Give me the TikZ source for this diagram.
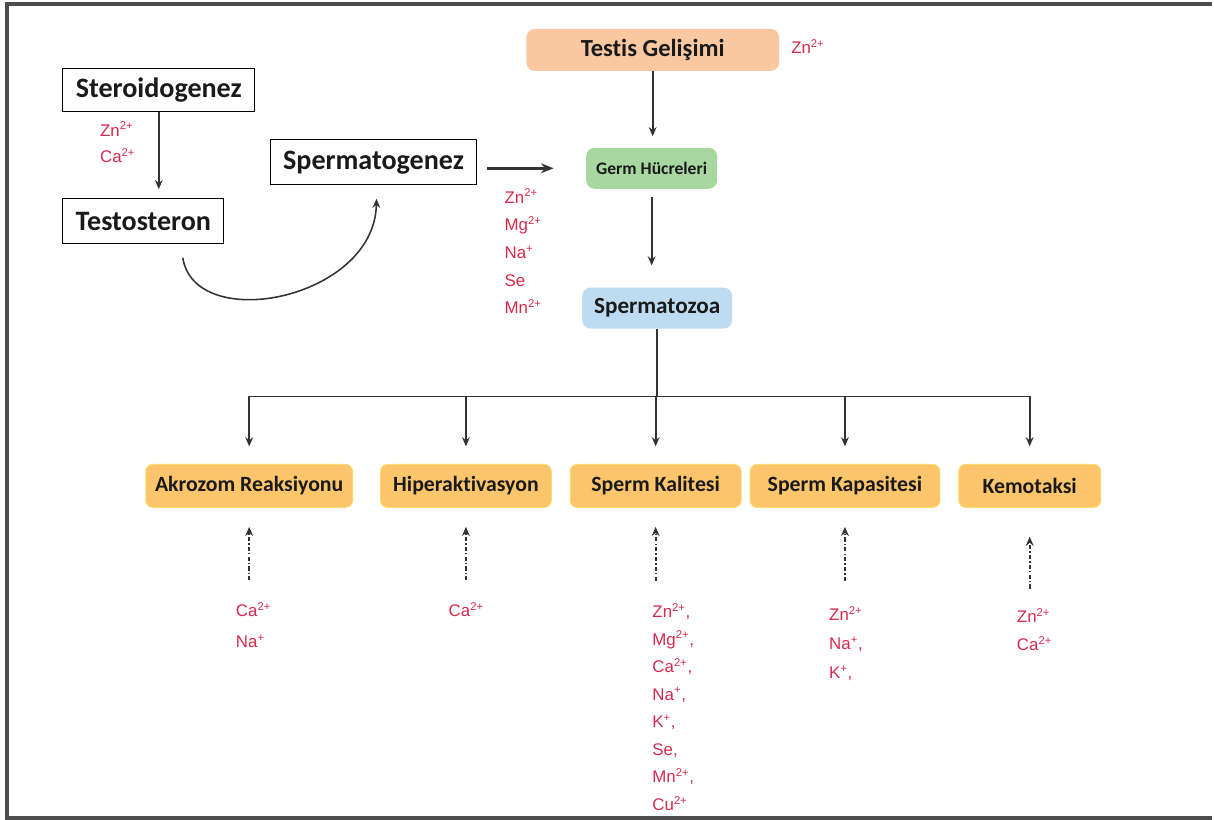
\documentclass[tikz,border=0pt]{standalone}
\usepackage{fontspec}
\setmainfont{Carlito}[Ligatures=NoCommon]
\newfontfamily\ionfont{Liberation Sans}
\usepackage{xcolor}
\usetikzlibrary{arrows.meta}
\definecolor{ink}{HTML}{1A1A1A}
\definecolor{wire}{HTML}{333333}
\definecolor{ionred}{HTML}{D62A4C}
\definecolor{framegray}{HTML}{4D4D4D}
\definecolor{peach}{HTML}{F9C8A1}
\definecolor{leaf}{HTML}{A9D7A0}
\definecolor{sky}{HTML}{BDDCF1}
\definecolor{amber}{HTML}{FCC56C}
\definecolor{amberline}{HTML}{FFD96E}
\newcommand{\ionsup}[2]{#1\textsuperscript{#2}}

\tikzset{
  plainbox/.style={draw=black, line width=0.8pt, fill=white, inner sep=0pt, text=ink,
                   font=\bfseries\fontsize{20}{24}\selectfont},
  softbox/.style={rounded corners=6pt, inner sep=0pt, text=ink},
  stagebox/.style={draw=amberline, fill=amber, line width=0.7pt, rounded corners=5pt,
                   inner sep=0pt, minimum height=1.075cm, text=ink,
                   font=\bfseries\fontsize{15.5}{18}\selectfont},
  ions/.style={anchor=north west, inner sep=0pt, align=left, text=ionred},
  flow/.style={draw=wire, line width=1.3pt, -{Stealth[length=6.5pt,width=5.5pt]}},
  dotflow/.style={draw=wire, line width=1.3pt, dash pattern=on 3pt off 1.5pt on 1pt off 1.5pt,
                  -{Stealth[length=6.5pt,width=5.5pt]}}
}

\begin{document}
\begin{tikzpicture}[x=0.025cm, y=-0.025cm]
\fill[white] (0,0) rectangle (1214,821);
\draw[framegray, line width=2.2pt] (1214,4) -- (7,4) -- (7,819) -- (1214,819);

\node[plainbox, minimum width=4.8cm, minimum height=1.075cm] (steroid) at (159,90.5) {Steroidogenez};
\node[plainbox, minimum width=4.025cm, minimum height=1.125cm] (testo) at (143.5,221.5) {Testosteron};
\node[plainbox, minimum width=5.15cm, minimum height=1.125cm] (spgen) at (374,162.5) {Spermatogenez};

\node[softbox, fill=peach, minimum width=6.325cm, minimum height=1.05cm,
      font=\bfseries\fontsize{17.5}{20}\selectfont] (testis) at (653.5,50) {Testis Gelişimi};
\node[softbox, fill=leaf, minimum width=3.275cm, minimum height=1.025cm,
      font=\bfseries\fontsize{12.5}{15}\selectfont] (germ) at (652.5,168.5) {Germ Hücreleri};
\node[softbox, fill=sky, minimum width=3.75cm, minimum height=1.025cm,
      font=\bfseries\fontsize{16.5}{19}\selectfont] (spzoa) at (658,308.5) {Spermatozoa};

\node[stagebox, minimum width=5.175cm] (akrozom) at (249.5,486.5) {Akrozom Reaksiyonu};
\node[stagebox, minimum width=4.275cm] (hiper) at (466.5,486.5) {Hiperaktivasyon};
\node[stagebox, minimum width=4.275cm] (kalite) at (656.5,486.5) {Sperm Kalitesi};
\node[stagebox, minimum width=4.75cm] (kapasite) at (846,486.5) {Sperm Kapasitesi};
\node[stagebox, minimum width=3.55cm] (kemo) at (1031,486.5) {Kemotaksi};

\node[ions, font=\ionfont\fontsize{12}{19.1}\selectfont] (steroid-ion) at (100,122)
  {\ionsup{Zn}{2+}\\\ionsup{Ca}{2+}};
\node[ions, font=\ionfont\fontsize{12}{19.7}\selectfont] (testis-ion) at (792,39) {\ionsup{Zn}{2+}};
\node[ions, font=\ionfont\fontsize{12}{19.7}\selectfont] (spgen-ion) at (505,189)
  {\ionsup{Zn}{2+}\\\ionsup{Mg}{2+}\\\ionsup{Na}{+}\\Se\\\ionsup{Mn}{2+}};
\node[ions, font=\ionfont\fontsize{12}{22}\selectfont] (akrozom-ion) at (236,603)
  {\ionsup{Ca}{2+}\\\ionsup{Na}{+}};
\node[ions, font=\ionfont\fontsize{12}{20}\selectfont] (hiper-ion) at (449,603) {\ionsup{Ca}{2+}};
\node[ions, font=\ionfont\fontsize{12}{19.6}\selectfont] (kalite-ion) at (653,604)
  {\ionsup{Zn}{2+},\\\ionsup{Mg}{2+},\\\ionsup{Ca}{2+},\\\ionsup{Na}{+},\\\ionsup{K}{+},\\Se,\\\ionsup{Mn}{2+},\\\ionsup{Cu}{2+}};
\node[ions, font=\ionfont\fontsize{12}{20.6}\selectfont] (kapasite-ion) at (830,607)
  {\ionsup{Zn}{2+}\\\ionsup{Na}{+},\\\ionsup{K}{+},};
\node[ions, font=\ionfont\fontsize{12}{20}\selectfont] (kemo-ion) at (1018,609)
  {\ionsup{Zn}{2+}\\\ionsup{Ca}{2+}};

\coordinate (bus) at (658,397);
\coordinate (cstart) at (183,258);
\coordinate (cend) at (377,199);

\draw[flow, shorten >=6.4pt] (steroid.south) -- (steroid.south |- testo.north);
\draw[draw=wire, line width=1.1pt, -{Stealth[length=6.5pt,width=5.5pt]}]
  (cstart) .. controls (195,335) and (375,300) .. (cend);
\draw[flow, line width=2.2pt, -{Stealth[length=9pt,width=7pt]}, shorten <=7pt, shorten >=23pt]
  (spgen.east |- germ) -- (germ);
\draw[flow, shorten >=8pt] (testis.south) -- (testis.south |- germ.north);
\draw[flow, shorten <=5.7pt, shorten >=15.6pt] (germ.south) -- (germ.south |- spzoa.north);
\draw[draw=wire, line width=1.3pt] (spzoa.south) -- (bus);
\draw[draw=wire, line width=1.3pt] (akrozom.north |- bus) -- (kemo.north |- bus);
\foreach \n in {akrozom,hiper,kalite,kapasite,kemo}
  \draw[flow, shorten >=12.5pt] (\n.north |- bus) -- (\n.north);
\foreach \n/\g/\s in {akrozom/15.5/13.5, hiper/15.5/13.5, kalite/16/13.5, kapasite/18/13.5, kemo/14/20.5}
  \draw[dotflow, shorten <=\g pt, shorten >=\s pt] (\n.south |- \n-ion.north) -- (\n.south);
\end{tikzpicture}
\end{document}
